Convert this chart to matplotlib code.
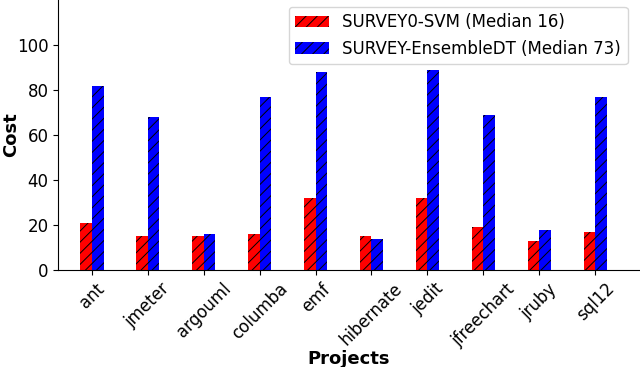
import matplotlib
matplotlib.use("Agg")
import matplotlib.pyplot as plt
import numpy as np

# Cost per project for the two approaches
projects = ["ant", "jmeter", "argouml", "columba", "emf",
            "hibernate", "jedit", "jfreechart", "jruby", "sql12"]
svm_cost = [21, 15, 15, 16, 32, 15, 32, 19, 13, 17]
ensemble_cost = [82, 68, 16, 77, 88, 14, 89, 69, 18, 77]
series_labels = ["SURVEY0-SVM (Median 16)", "SURVEY-EnsembleDT (Median 73)"]

plt.rcParams["hatch.linewidth"] = 0.7

x = np.arange(len(projects))
w = 0.21

fig = plt.figure(figsize=(6.4, 3.67), dpi=100)
ax = fig.add_axes([0.091, 0.264, 0.909, 0.736])

ax.bar(x - w / 2, svm_cost, w, color="red", hatch="///", label=series_labels[0])
ax.bar(x + w / 2, ensemble_cost, w, color="blue", hatch="///", label=series_labels[1])

ax.set_xlim(-0.6, 9.8)
ax.set_ylim(0, 120)
ax.set_yticks([0, 20, 40, 60, 80, 100])
ax.set_xticks(x)
ax.set_xticklabels(projects, rotation=45, fontsize=12)
ax.tick_params(axis="y", labelsize=12)
ax.set_xlabel("Projects", fontsize=13, fontweight="bold", labelpad=0)
ax.set_ylabel("Cost", fontsize=13, fontweight="bold")
ax.yaxis.set_label_coords(-0.065, 0.5)
ax.spines["top"].set_visible(False)
ax.spines["right"].set_visible(False)
ax.legend(loc="upper right", fontsize=12, handlelength=2.0,
          bbox_to_anchor=(0.99, 1.0), borderaxespad=0.4)

fig.savefig("out.png", dpi=100)
